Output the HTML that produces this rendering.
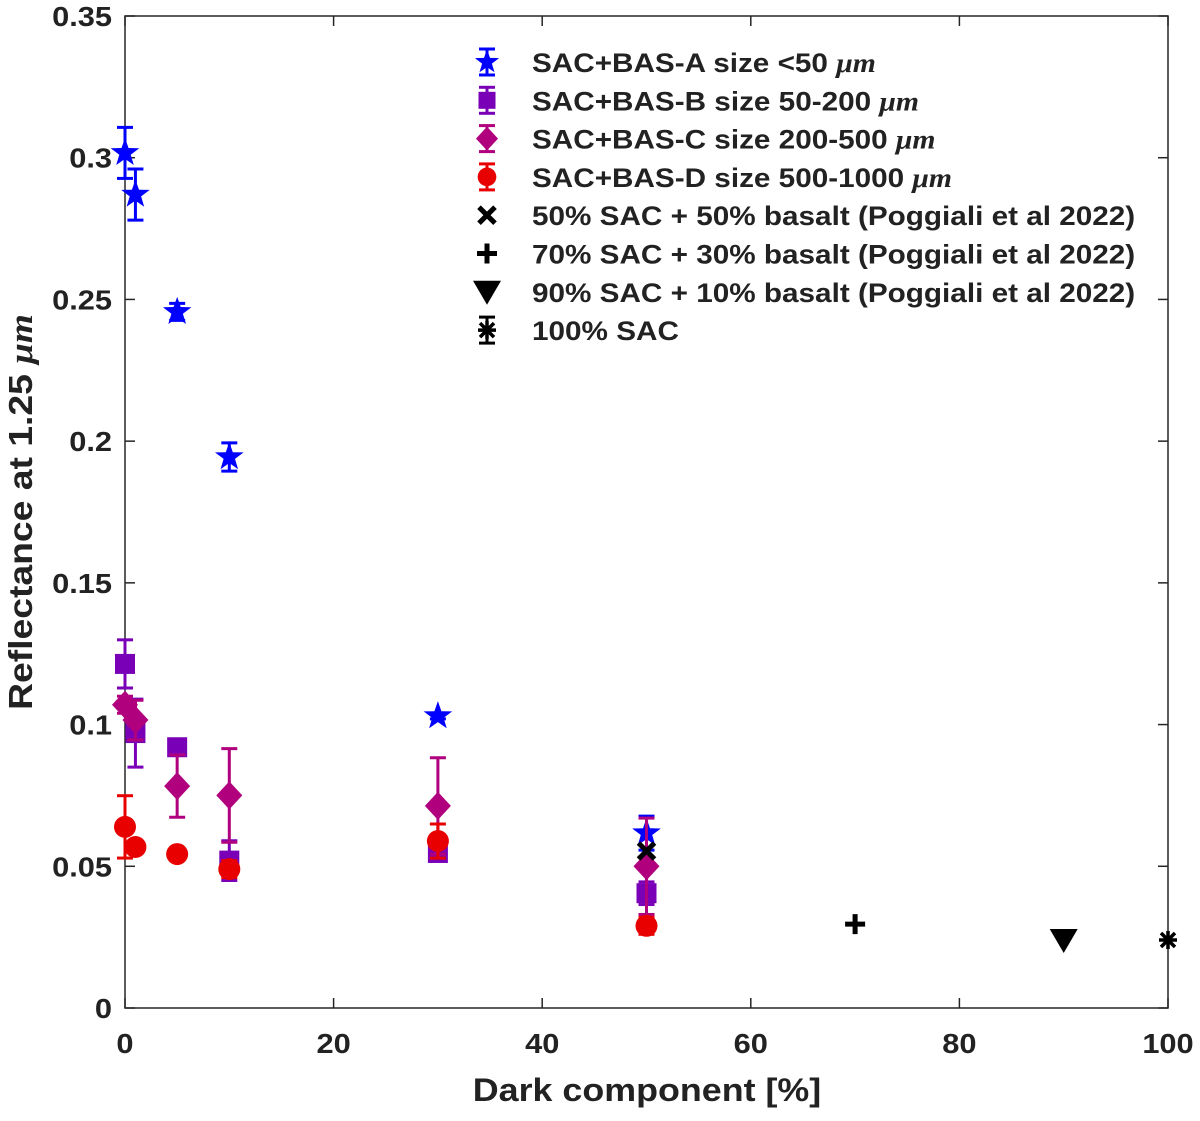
<!DOCTYPE html>
<html><head><meta charset="utf-8"><style>
html,body{margin:0;padding:0;background:#fff;}
svg text{font-family:"Liberation Sans",sans-serif;font-weight:bold;fill:#222;}
</style></head><body>
<svg id="chart" width="1200" height="1116" xmlns="http://www.w3.org/2000/svg">
<g id="axes"></g><g id="marks"></g><g id="legend"></g>
</svg>
<script>
const xVals=[0,1,5,10,30,50];
const serA=[0.3017,0.287,0.2456,0.1944,0.103,0.0617];
const errA=[0.009,0.009,0.003,0.005,0.001,0.006];
const serB=[0.1214,0.097,0.092,0.052,0.0547,0.0405];
const errB=[0.0085,0.012,0.002,0.007,0.002,0.004];
const serC=[0.107,0.1016,0.0783,0.075,0.0713,0.050];
const errC=[0.003,0.007,0.011,0.0165,0.017,0.017];
const serD=[0.0639,0.0568,0.0543,0.049,0.0589,0.029];
const errD=[0.011,0.002,0.002,0.003,0.006,0.003];
const refX=[50,70,90,100];
const refY=[0.0554,0.0296,0.024,0.024];
const xTicks=[0,20,40,60,80,100];
const yTicks=[0,0.05,0.1,0.15,0.2,0.25,0.3,0.35];
const yTickLabels=["0","0.05","0.1","0.15","0.2","0.25","0.3","0.35"];
const legendLabels=["SAC+BAS-A size <50 μm","SAC+BAS-B size 50-200 μm","SAC+BAS-C size 200-500 μm","SAC+BAS-D size 500-1000 μm","50% SAC + 50% basalt (Poggiali et al 2022)","70% SAC + 30% basalt (Poggiali et al 2022)","90% SAC + 10% basalt (Poggiali et al 2022)","100% SAC"];

const L=125,R=1168,T=16,B=1008;
const sx=v=>L+(v/100)*(R-L);
const sy=v=>B-(v/0.35)*(B-T);
const NS="http://www.w3.org/2000/svg";
function mk(tag,attrs,parent){const e=document.createElementNS(NS,tag);for(const k in attrs)e.setAttribute(k,attrs[k]);parent.appendChild(e);return e;}
const axes=document.getElementById('axes'),marks=document.getElementById('marks'),leg=document.getElementById('legend');

const box=mk('rect',{x:L,y:T,width:R-L,height:B-T,fill:'none',stroke:'#262626','stroke-width':1.5},axes);


xTicks.forEach(t=>{
  mk('line',{x1:sx(t),x2:sx(t),y1:B,y2:B-10,stroke:'#262626','stroke-width':1.5},axes);
  mk('line',{x1:sx(t),x2:sx(t),y1:T,y2:T+10,stroke:'#262626','stroke-width':1.5},axes);
  const tx=mk('text',{x:0,y:0,'font-size':28,'text-anchor':'middle',transform:`translate(${sx(t)},1053) scale(1.1,1)`},axes);tx.textContent=t;
  
  
});
yTicks.forEach((t,i)=>{
  mk('line',{x1:L,x2:L+10,y1:sy(t),y2:sy(t),stroke:'#262626','stroke-width':1.5},axes);
  mk('line',{x1:R,x2:R-10,y1:sy(t),y2:sy(t),stroke:'#262626','stroke-width':1.5},axes);
  const tx=mk('text',{x:0,y:0,'font-size':28,'text-anchor':'end',transform:`translate(112,${sy(t)+10}) scale(1.1,1)`},axes);tx.textContent=yTickLabels[i];
  
  
});
const xt=mk('text',{x:0,y:0,'font-size':32,'text-anchor':'middle',transform:'translate(647,1101) scale(1.12,1)'},axes);xt.textContent='Dark component [%]';


const yt=mk('text',{x:0,y:0,'font-size':33,'text-anchor':'middle',transform:'translate(32,512) rotate(-90) scale(1.13,1)'},axes);
yt.innerHTML='Reflectance at 1.25 <tspan font-style="italic" font-family="Liberation Serif">μm</tspan>';



function marker(type,cx,cy,color,g,s){
  s=s||1;
  if(type==='star'){let p=[];for(let k=0;k<10;k++){const r=(k%2?6:15)*s,a=-Math.PI/2+k*Math.PI/5;p.push((cx+r*Math.cos(a)).toFixed(1)+','+(cy+r*Math.sin(a)).toFixed(1));}mk('polygon',{points:p.join(' '),fill:color},g);}
  else if(type==='square'){mk('rect',{x:cx-10*s,y:cy-10*s,width:20*s,height:20*s,fill:color},g);}
  else if(type==='diamond'){mk('polygon',{points:`${cx},${cy-14*s} ${cx+13*s},${cy} ${cx},${cy+14*s} ${cx-13*s},${cy}`,fill:color},g);}
  else if(type==='circle'){mk('circle',{cx,cy,r:11*s,fill:color},g);}
  else if(type==='x'){mk('path',{d:`M${cx-8},${cy-8}L${cx+8},${cy+8}M${cx+8},${cy-8}L${cx-8},${cy+8}`,stroke:'#000','stroke-width':5},g);}
  else if(type==='plus'){mk('path',{d:`M${cx-10},${cy}L${cx+10},${cy}M${cx},${cy-10}L${cx},${cy+10}`,stroke:'#000','stroke-width':5},g);}
  else if(type==='tri'){mk('polygon',{points:`${cx-14},${cy-11} ${cx+14},${cy-11} ${cx},${cy+13}`,fill:'#000'},g);}
  else if(type==='ast'){mk('path',{d:`M${cx-9},${cy}L${cx+9},${cy}M${cx},${cy-9}L${cx},${cy+9}M${cx-7},${cy-7}L${cx+7},${cy+7}M${cx+7},${cy-7}L${cx-7},${cy+7}`,stroke:'#000','stroke-width':3.5},g);}
}
function errbar(cx,y1,y2,color,g){
  mk('line',{x1:cx,x2:cx,y1,y2,stroke:color,'stroke-width':3},g);
  mk('line',{x1:cx-8,x2:cx+8,y1,y2:y1,stroke:color,'stroke-width':3},g);
  mk('line',{x1:cx-8,x2:cx+8,y1:y2,y2,stroke:color,'stroke-width':3},g);
}
const series=[
  {name:'series-a',vals:serA,err:errA,color:'#0000ff',m:'star'},
  {name:'series-b',vals:serB,err:errB,color:'#7a00b8',m:'square'},
  {name:'series-c',vals:serC,err:errC,color:'#b0007e',m:'diamond'},
  {name:'series-d',vals:serD,err:errD,color:'#e80000',m:'circle'}
];
series.forEach(s=>{
  const g=mk('g',{},marks);
  
  
  s.vals.forEach((v,i)=>{
    const pg=mk('g',{},g);
    
    
    errbar(sx(xVals[i]),sy(v+s.err[i]),sy(v-s.err[i]),s.color,pg);
    marker(s.m,sx(xVals[i]),sy(v),s.color,pg);
  });
});
const refTypes=['x','plus','tri','ast'];
refX.forEach((x,i)=>{
  const g=mk('g',{},marks);
  
  
  marker(refTypes[i],sx(x),sy(refY[i]),'#000',g);
});
const lt=['star','square','diamond','circle','x','plus','tri','ast'];
const lc=['#0000ff','#7a00b8','#b0007e','#e80000','#000','#000','#000','#000'];
legendLabels.forEach((lab,i)=>{
  const y=62+i*38.3;
  const g=mk('g',{},leg);
  
  
  if(i<4||i===7){errbar(487,y-13,y+13,lc[i],g);}
  marker(lt[i],487,y,lc[i],g,0.85);
  const t=mk('text',{x:0,y:0,'font-size':27,fill:'#000',transform:`translate(532,${y+10}) scale(1.1,1)`},g);
  if(lab.endsWith('μm')){t.innerHTML=lab.replace('μm','<tspan font-style="italic" font-family="Liberation Serif">μm</tspan>');}
  else t.textContent=lab;
});
</script>
</body></html>
